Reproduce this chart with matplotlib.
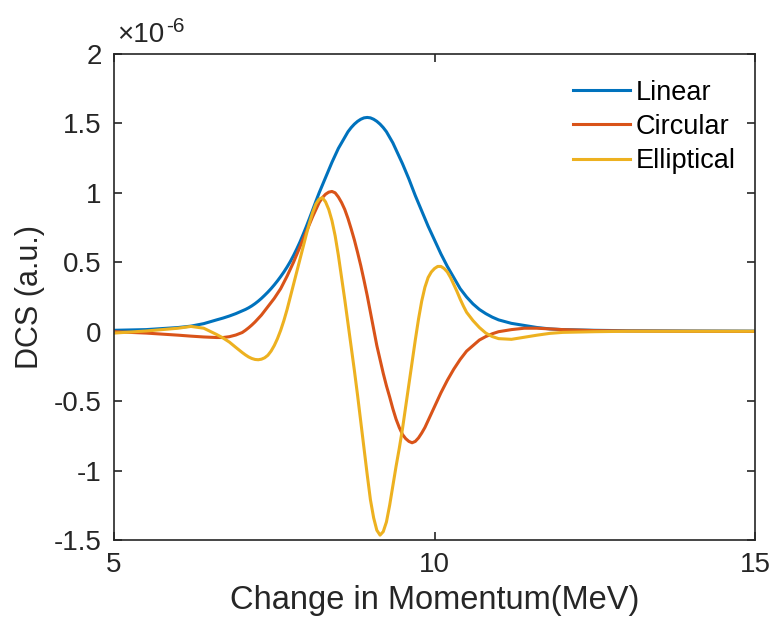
import matplotlib
matplotlib.use('Agg')
import matplotlib.pyplot as plt

plt.rcParams['font.family'] = ['Liberation Sans', 'DejaVu Sans']
plt.rcParams['axes.unicode_minus'] = False

# momentum change (MeV)
momentum = [5.0, 5.5, 6.0, 6.2, 6.4, 6.6, 6.7, 6.8, 6.9,
            7.0, 7.05, 7.1, 7.15, 7.2, 7.25, 7.3, 7.35, 7.4, 7.45,
            7.5, 7.55, 7.6, 7.65, 7.7, 7.75, 7.8, 7.85, 7.9, 7.95,
            8.0, 8.05, 8.1, 8.15, 8.2, 8.25, 8.3, 8.35, 8.4, 8.45,
            8.5, 8.55, 8.6, 8.65, 8.7, 8.75, 8.8, 8.85, 8.9, 8.95,
            9.0, 9.05, 9.1, 9.15, 9.2, 9.25, 9.3, 9.35, 9.4, 9.45,
            9.5, 9.55, 9.6, 9.65, 9.7, 9.75, 9.8, 9.85, 9.9, 9.95,
            10.0, 10.05, 10.1, 10.15, 10.2, 10.25, 10.3, 10.35, 10.4, 10.45,
            10.5, 10.6, 10.7, 10.8, 10.9, 11.0, 11.2, 11.4, 11.6, 11.8,
            12.0, 12.5, 13.0, 14.0, 15.0]

# DCS values in units of 1e-6
dcs_linear = [0.01, 0.015, 0.03, 0.04, 0.058, 0.085, 0.098, 0.113, 0.13,
              0.15, 0.16, 0.172, 0.186, 0.202, 0.22, 0.24, 0.262, 0.285, 0.31,
              0.337, 0.366, 0.397, 0.43, 0.466, 0.505, 0.548, 0.595, 0.645, 0.70,
              0.757, 0.817, 0.878, 0.94, 1.00, 1.055, 1.11, 1.165, 1.22, 1.27,
              1.32, 1.36, 1.40, 1.44, 1.47, 1.495, 1.515, 1.53, 1.54, 1.543,
              1.54, 1.53, 1.515, 1.495, 1.47, 1.44, 1.40, 1.36, 1.31, 1.26,
              1.21, 1.155, 1.10, 1.04, 0.98, 0.925, 0.87, 0.815, 0.76, 0.71,
              0.66, 0.61, 0.56, 0.515, 0.47, 0.43, 0.39, 0.35, 0.31, 0.28,
              0.25, 0.20, 0.16, 0.13, 0.105, 0.085, 0.06, 0.045, 0.03, 0.02,
              0.015, 0.01, 0.007, 0.005, 0.004]

dcs_circular = [0.0, -0.01, -0.025, -0.032, -0.038, -0.042, -0.042, -0.036, -0.024,
                -0.006, 0.01, 0.028, 0.048, 0.07, 0.095, 0.12, 0.15, 0.18, 0.21,
                0.24, 0.275, 0.31, 0.355, 0.40, 0.45, 0.50, 0.555, 0.61, 0.665,
                0.72, 0.775, 0.83, 0.88, 0.93, 0.965, 0.99, 1.005, 1.01, 1.0,
                0.97, 0.93, 0.88, 0.815, 0.74, 0.66, 0.57, 0.475, 0.37, 0.26,
                0.14, 0.02, -0.10, -0.20, -0.30, -0.39, -0.47, -0.555, -0.63, -0.69,
                -0.74, -0.77, -0.79, -0.80, -0.79, -0.765, -0.73, -0.69, -0.64, -0.59,
                -0.54, -0.49, -0.44, -0.395, -0.35, -0.31, -0.27, -0.235, -0.20, -0.17,
                -0.14, -0.10, -0.06, -0.035, -0.015, 0.0, 0.015, 0.025, 0.025, 0.02,
                0.015, 0.008, 0.005, 0.003, 0.002]

dcs_elliptical = [-0.01, 0.005, 0.025, 0.038, 0.025, -0.02, -0.045, -0.075, -0.113,
                  -0.15, -0.167, -0.182, -0.193, -0.200, -0.202, -0.198, -0.188, -0.17, -0.14,
                  -0.10, -0.05, 0.01, 0.08, 0.16, 0.25, 0.34, 0.43, 0.52, 0.61,
                  0.70, 0.785, 0.86, 0.92, 0.955, 0.965, 0.935, 0.88, 0.80, 0.69,
                  0.55, 0.39, 0.23, 0.06, -0.11, -0.28, -0.46, -0.65, -0.84, -1.03,
                  -1.21, -1.34, -1.43, -1.465, -1.44, -1.37, -1.25, -1.11, -0.97, -0.84,
                  -0.70, -0.54, -0.38, -0.22, -0.06, 0.09, 0.22, 0.32, 0.39, 0.43,
                  0.455, 0.47, 0.47, 0.455, 0.43, 0.39, 0.34, 0.29, 0.235, 0.185,
                  0.14, 0.08, 0.03, -0.01, -0.035, -0.05, -0.055, -0.04, -0.025, -0.012,
                  -0.005, 0.0, 0.003, 0.003, 0.003]

labels = ['Linear', 'Circular', 'Elliptical']
colors = ['#0072BD', '#D95319', '#EDB120']

fig = plt.figure(figsize=(7.74, 6.27), dpi=100)
ax = fig.add_axes([0.1473, 0.1388, 0.8282, 0.7751])

for vals, lab, col in zip([dcs_linear, dcs_circular, dcs_elliptical], labels, colors):
    ax.plot(momentum, [v * 1e-6 for v in vals], color=col, lw=2.2, label=lab)

ax.set_xlim(5, 15)
ax.set_ylim(-1.5e-6, 2e-6)
ax.set_xticks([5, 10, 15])
yt = [-1.5, -1, -0.5, 0, 0.5, 1, 1.5, 2]
ax.set_yticks([v * 1e-6 for v in yt])
ax.set_yticklabels(['%g' % v for v in yt])

axis_col = '#262626'
for s in ax.spines.values():
    s.set_color(axis_col)
    s.set_linewidth(1.2)
ax.tick_params(direction='in', length=6, width=1.2, colors=axis_col,
               labelsize=20, top=True, right=True, pad=9)
for lbl in ax.get_xticklabels() + ax.get_yticklabels():
    lbl.set_color(axis_col)

ax.set_xlabel('Change in Momentum(MeV)', fontsize=23.5, color=axis_col, labelpad=5)
ax.set_ylabel('DCS (a.u.)', fontsize=22, color=axis_col, labelpad=6)

# exponent marker drawn the way MATLAB does it
ax.text(0.005, 1.012, '\u00d710', transform=ax.transAxes,
        fontsize=20, color=axis_col, ha='left', va='bottom')
ax.text(0.082, 1.036, '-6', transform=ax.transAxes,
        fontsize=15, color=axis_col, ha='left', va='bottom')

leg = ax.legend(loc='upper right', bbox_to_anchor=(1.008, 0.997), frameon=False,
                fontsize=19.5, handlelength=2.1, handletextpad=0.2, labelspacing=0.3)
for t in leg.get_texts():
    t.set_color('black')

fig.savefig('out.png', dpi=100)
